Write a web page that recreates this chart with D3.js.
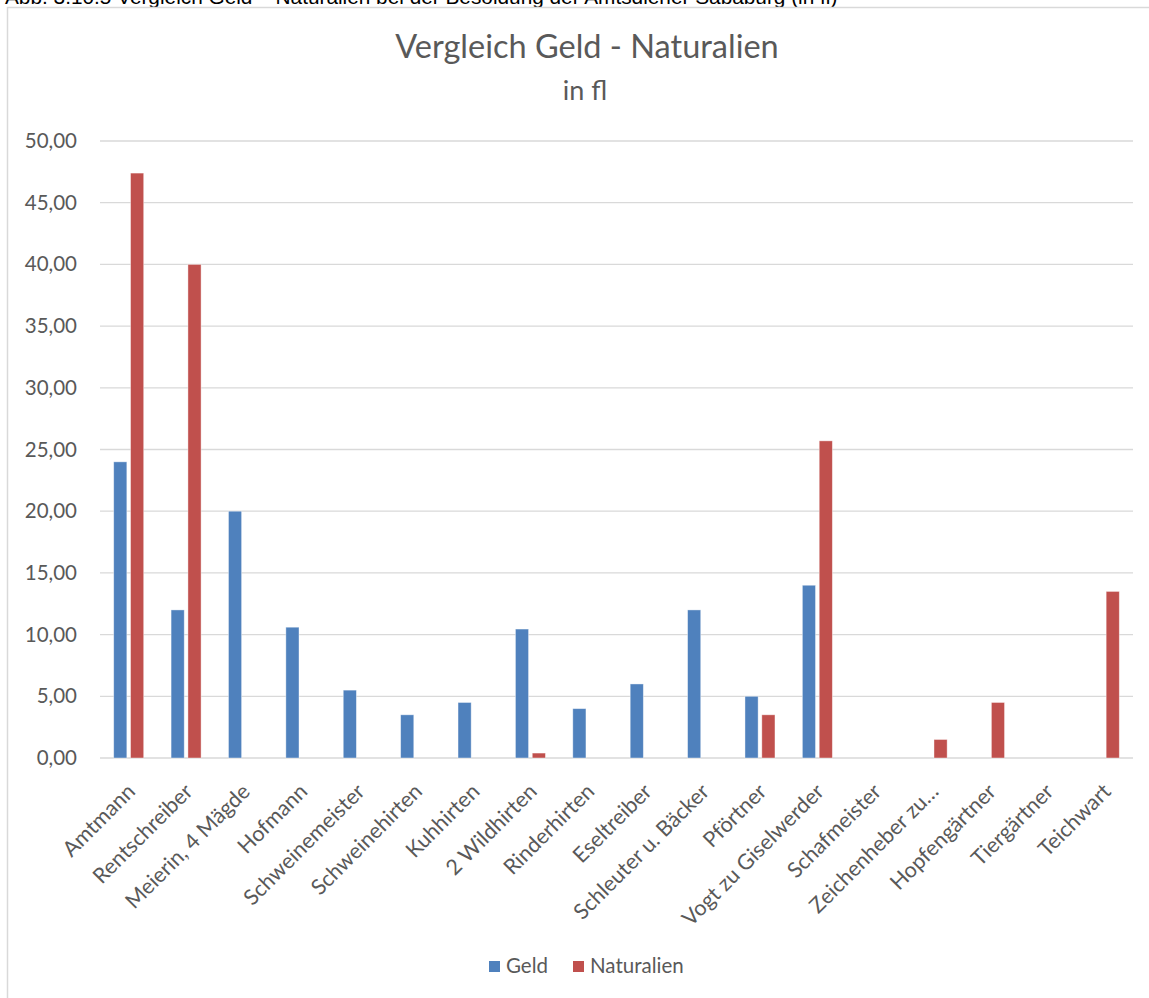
<!DOCTYPE html>
<html><head><meta charset="utf-8">
<script src="https://cdn.jsdelivr.net/npm/d3@7/dist/d3.min.js"></script>
<style>body{margin:0;background:#fff}svg{display:block}</style>
</head><body>
<svg id="c" width="1149" height="998"></svg>
<script>
const categories = ["Amtmann","Rentschreiber","Meierin, 4 Mägde","Hofmann","Schweinemeister","Schweinehirten","Kuhhirten","2 Wildhirten","Rinderhirten","Eseltreiber","Schleuter u. Bäcker","Pförtner","Vogt zu Giselwerder","Schafmeister","Zeichenheber zu…","Hopfengärtner","Tiergärtner","Teichwart"];
const geld =       [24, 12, 20, 10.6, 5.5, 3.5, 4.5, 10.45, 4, 6, 12, 5, 14, 0, 0, 0, 0, 0];
const naturalien = [47.4, 40, 0, 0, 0, 0, 0, 0.4, 0, 0, 0, 3.5, 25.7, 0, 1.5, 4.5, 0, 13.5];
const seriesNames = ["Geld","Naturalien"];
const seriesColors = ["#4F81BD","#C0504D"];
const yTicks = [0,5,10,15,20,25,30,35,40,45,50];
const caption = "Abb. 3.10.5 Vergleich Geld – Naturalien bei der Besoldung der Amtsdiener Sababurg (in fl)";
const title = "Vergleich Geld - Naturalien";
const subtitle = "in fl";

const svg = d3.select("#c");
const font = "Lato, 'Open Sans', sans-serif";
const textColor = "#595959";

// caption (cut off at top, as in the source image)
svg.append("text").attr("x",5).attr("y",4)
  .attr("font-family","'Liberation Sans', Arial, sans-serif").attr("font-size",20.8)
  .attr("fill","#000").text(caption);

// frame
svg.append("rect").attr("x",7.5).attr("y",7.5).attr("width",1160).attr("height",1010)
  .attr("fill","#fff").attr("stroke","#d9d9d9").attr("stroke-width",1.5);

const m = {left:100, right:1133, top:141, bottom:758};
const x0 = d3.scaleBand().domain(categories).range([m.left, m.right]).padding(0);
const x1 = d3.scaleBand().domain(seriesNames).range([-15, 15]).paddingInner(0.22);
const y = d3.scaleLinear().domain([0,50]).range([m.bottom, m.top]);

// gridlines
svg.append("g").selectAll("line").data(yTicks).join("line")
  .attr("x1",m.left).attr("x2",m.right)
  .attr("y1",d=>y(d)).attr("y2",d=>y(d))
  .attr("stroke","#d9d9d9").attr("stroke-width",1.3);

// y axis labels
const yAxis = d3.axisLeft(y).tickValues(yTicks).tickSize(0).tickPadding(0)
  .tickFormat(d=>d3.format(".2f")(d).replace(".",","));
const ya = svg.append("g").attr("transform",`translate(${m.left-23},0)`).call(yAxis);
ya.select(".domain").remove();
ya.selectAll("text").attr("font-family",font).attr("font-size",20.5).attr("fill",textColor);

// bars
const series = [geld, naturalien];
seriesNames.forEach((s,si)=>{
  svg.append("g").selectAll("rect").data(categories).join("rect")
    .attr("x",(c)=>x0(c)+x0.bandwidth()/2+x1(s))
    .attr("width",x1.bandwidth())
    .attr("y",(c,i)=>y(series[si][i]))
    .attr("height",(c,i)=>y(0)-y(series[si][i]))
    .attr("fill",seriesColors[si])
    .attr("stroke","#fff").attr("stroke-opacity",0.5).attr("stroke-width",0.8)
    .style("display",(c,i)=>series[si][i]>0?null:"none");
});

// x labels
const xa = svg.append("g").attr("transform",`translate(0,${m.bottom})`)
  .call(d3.axisBottom(x0).tickSize(0).tickPadding(0));
xa.select(".domain").remove();
xa.selectAll("text")
  .attr("font-family",font).attr("font-size",21.5).attr("fill",textColor)
  .attr("text-anchor","end")
  .attr("dy",null).attr("y",null)
  .attr("transform","translate(4,31) rotate(-45)")
  .attr("dominant-baseline","middle");

// title
svg.append("text").attr("x",587).attr("y",58).attr("text-anchor","middle")
  .attr("font-family",font).attr("font-size",32.5).attr("fill",textColor).text(title);
svg.append("text").attr("x",585).attr("y",100).attr("text-anchor","middle")
  .attr("font-family",font).attr("font-size",27).attr("fill",textColor).text(subtitle);

// legend
const legendItems = [{name:seriesNames[0],color:seriesColors[0],x:489},{name:seriesNames[1],color:seriesColors[1],x:573}];
const lg = svg.append("g");
legendItems.forEach(it=>{
  lg.append("rect").attr("x",it.x).attr("y",961).attr("width",11).attr("height",11).attr("fill",it.color);
  lg.append("text").attr("x",it.x+17).attr("y",973).attr("font-family",font).attr("font-size",20.5)
    .attr("fill",textColor).text(it.name);
});
</script>
</body></html>
